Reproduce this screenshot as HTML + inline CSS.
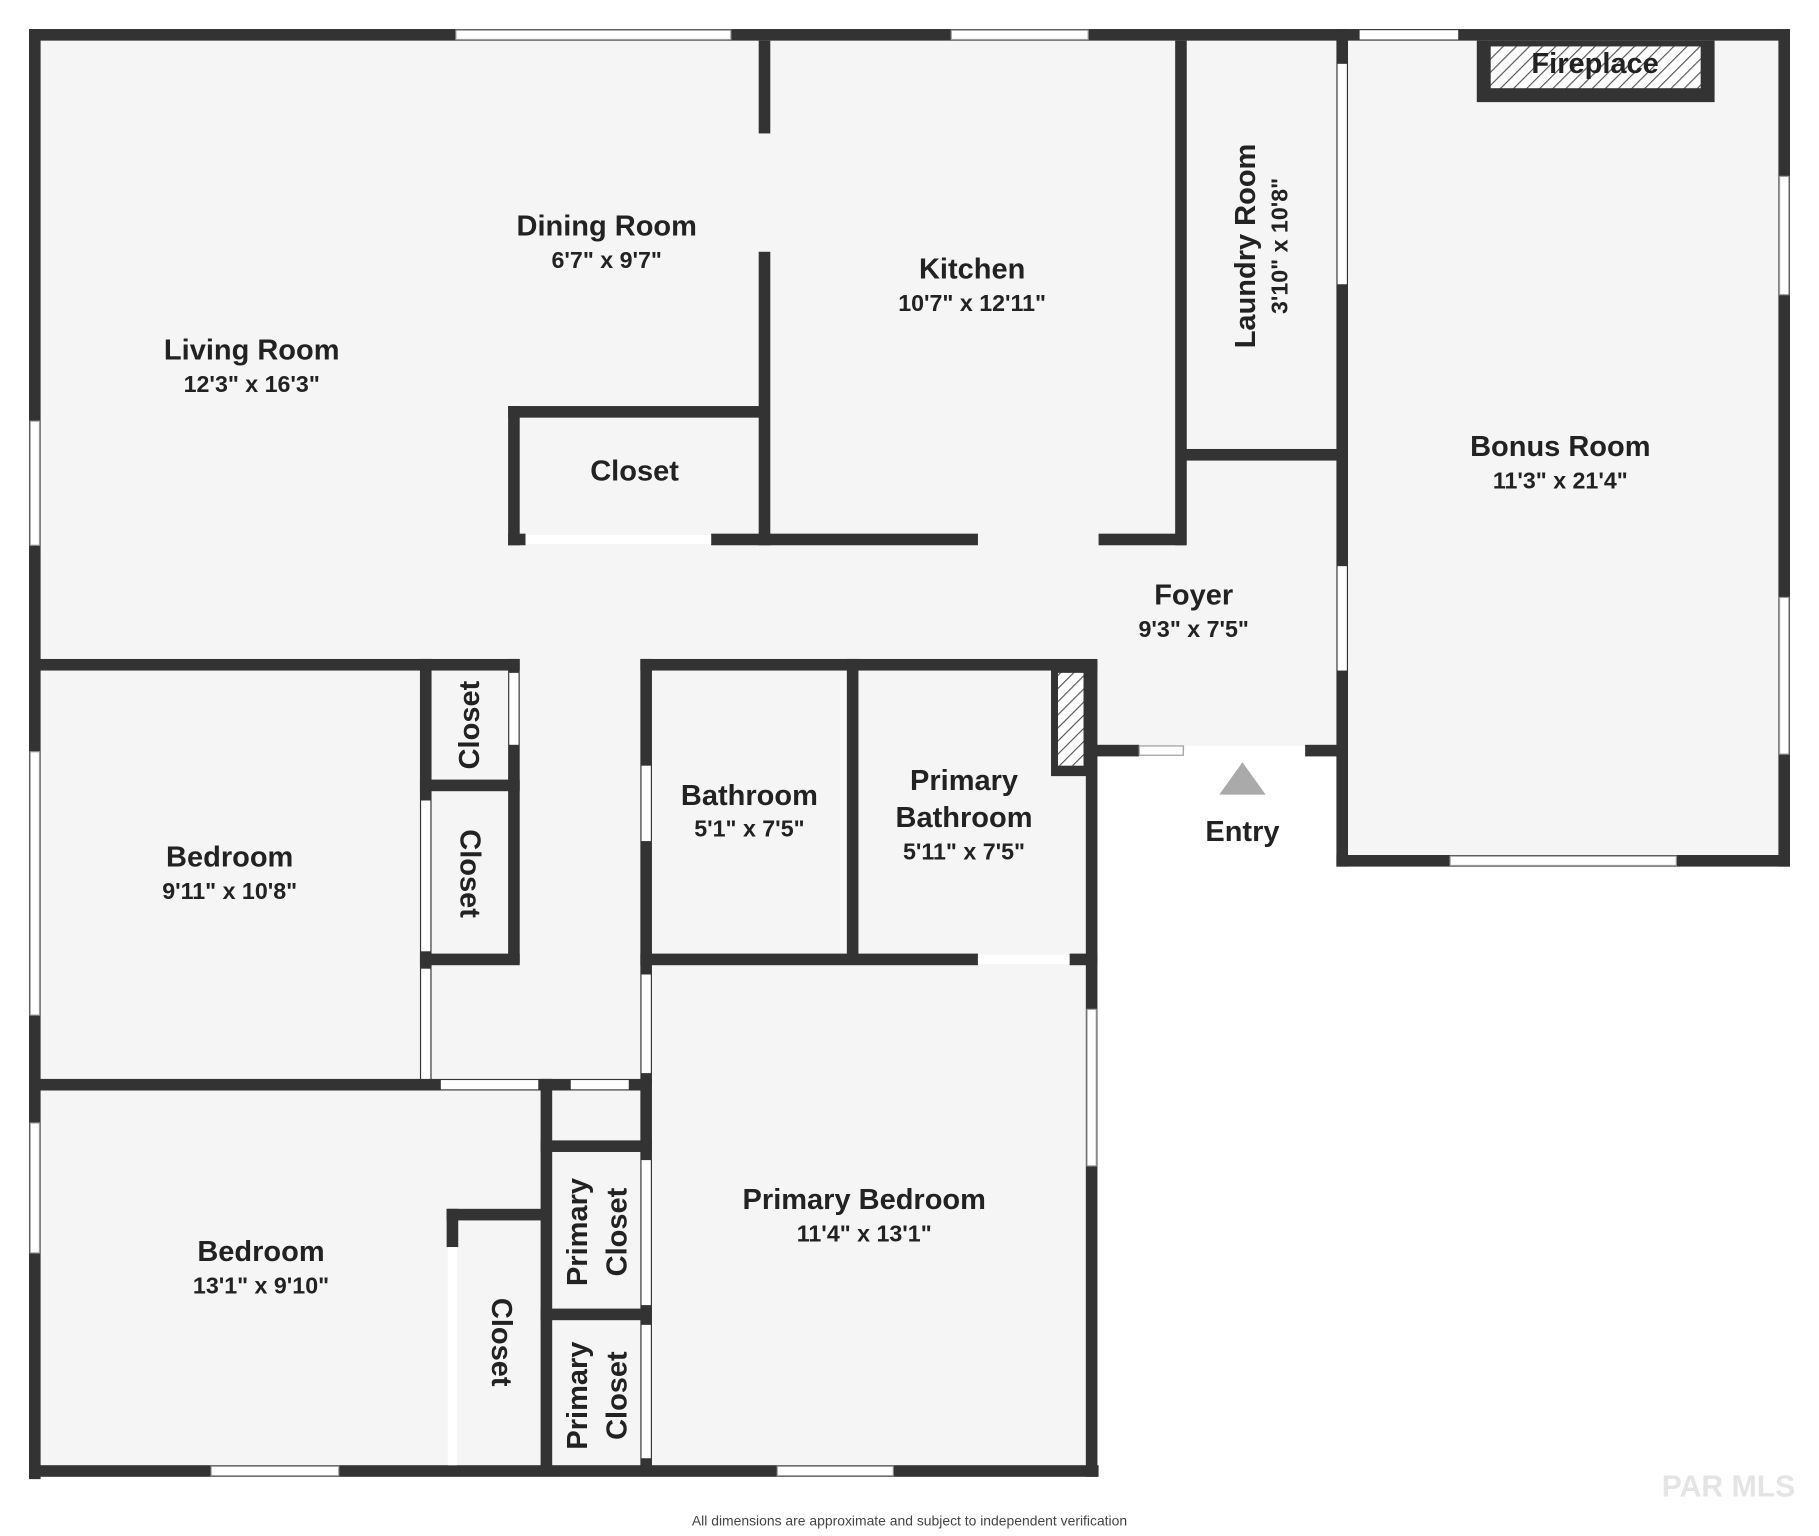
<!DOCTYPE html>
<html><head><meta charset="utf-8"><style>
html,body{margin:0;padding:0;background:#fff;}
svg{display:block;}
text{font-family:"Liberation Sans",sans-serif;font-weight:bold;fill:#222;text-anchor:middle;}
.t{font-size:25px;}
.d{font-size:20px;}
</style></head><body>
<svg width="1819" height="1536" viewBox="0 0 1568 1324" xmlns="http://www.w3.org/2000/svg">
<defs>
<pattern id="h" width="8" height="8" patternUnits="userSpaceOnUse" patternTransform="rotate(45)">
<rect width="8" height="8" fill="#fff"/><line x1="0" y1="0" x2="0" y2="8" stroke="#555" stroke-width="2"/></pattern>
</defs>
<!-- floors -->
<path d="M30 30 H1152 V647 H941 V1268 H30 Z" fill="#f5f5f5"/>
<rect x="1152" y="30" width="390" height="715" fill="#f5f5f5"/>
<g fill="#333">
<!-- outer -->
<rect x="25" y="25" width="1518" height="10"/>
<rect x="25" y="25" width="10" height="1250"/>
<rect x="25" y="1263" width="922" height="10"/>
<rect x="936" y="570" width="10" height="703"/>
<rect x="1533" y="25" width="10" height="722"/>
<rect x="1152" y="737" width="391" height="10"/>
<rect x="1152" y="25" width="10" height="722"/>
<!-- dining/kitchen -->
<rect x="654" y="35" width="10" height="80"/>
<rect x="654" y="217" width="10" height="253"/>
<rect x="438" y="350" width="220" height="10"/>
<rect x="438" y="350" width="10" height="120"/>
<rect x="438" y="460" width="15" height="10"/>
<rect x="613" y="460" width="230" height="10"/>
<rect x="947" y="460" width="75" height="10"/>
<rect x="1013" y="35" width="10" height="435"/>
<rect x="1018" y="387" width="140" height="10"/>
<!-- fireplace -->
<rect x="1273" y="35" width="205" height="53"/>
<!-- foyer bottom -->
<rect x="941" y="642" width="41" height="10"/>
<rect x="1125" y="642" width="32" height="10"/>
<!-- bedroom1 -->
<rect x="30" y="568" width="418" height="10"/>
<rect x="362" y="568" width="10" height="367"/>
<rect x="438" y="568" width="10" height="262"/>
<rect x="362" y="672" width="86" height="10"/>
<rect x="362" y="822" width="86" height="10"/>
<rect x="30" y="930" width="530" height="10"/>
<!-- bath block -->
<rect x="552" y="568" width="394" height="10"/>
<rect x="552" y="568" width="10" height="367"/>
<rect x="730" y="568" width="10" height="262"/>
<rect x="552" y="822" width="291" height="10"/>
<rect x="922" y="822" width="24" height="10"/>
<rect x="906" y="573" width="34" height="96"/>
<!-- lower closets -->
<rect x="466" y="930" width="10" height="338"/>
<rect x="552" y="930" width="10" height="338"/>
<rect x="466" y="983" width="96" height="10"/>
<rect x="466" y="1128" width="96" height="10"/>
<rect x="385" y="1042" width="85" height="10"/>
<rect x="385" y="1042" width="10" height="33"/>
</g>
<rect x="1285" y="40" width="181" height="36" fill="url(#h)"/>
<rect x="912" y="580" width="22" height="80" fill="url(#h)"/>
<!-- windows / openings -->
<g fill="#fff" stroke="#999" stroke-width="1">
<rect x="393" y="26" width="237" height="8"/>
<rect x="820" y="26" width="118" height="8"/>
<rect x="1172" y="26" width="85" height="8" stroke="none"/>
<rect x="26" y="363" width="8" height="107"/>
<rect x="26" y="648" width="8" height="227"/>
<rect x="26" y="968" width="8" height="112"/>
<rect x="182" y="1264" width="110" height="8"/>
<rect x="670" y="1264" width="100" height="8"/>
<rect x="937" y="870" width="8" height="135"/>
<rect x="1534" y="152" width="8" height="102"/>
<rect x="1534" y="515" width="8" height="135"/>
<rect x="1250" y="738" width="195" height="8"/>
<rect x="1153" y="55" width="8" height="190" stroke="none"/>
<rect x="1153" y="488" width="8" height="90" stroke="none"/>
<rect x="982" y="643" width="38" height="8"/>
<rect x="1022" y="643" width="103" height="8" stroke="none"/>
<rect x="453" y="461" width="160" height="8" stroke="none"/>
<rect x="439" y="580" width="8" height="62" stroke="none"/>
<rect x="363" y="690" width="8" height="130" stroke="none"/>
<rect x="363" y="835" width="8" height="95" stroke="none"/>
<rect x="553" y="660" width="8" height="65" stroke="none"/>
<rect x="553" y="840" width="8" height="85" stroke="none"/>
<rect x="843" y="823" width="79" height="8" stroke="none"/>
<rect x="380" y="931" width="84" height="8" stroke="none"/>
<rect x="492" y="931" width="50" height="8" stroke="none"/>
<rect x="553" y="1000" width="8" height="125" stroke="none"/>
<rect x="553" y="1142" width="8" height="115" stroke="none"/>
<rect x="386" y="1075" width="8" height="188" stroke="none"/>
</g>
<polygon points="1071,657 1051,685 1091,685" fill="#aaa"/>
<!-- labels -->
<text class="t" x="1375" y="63">Fireplace</text>
<text class="t" x="523" y="203">Dining Room</text><text class="d" x="523" y="231">6'7" x 9'7"</text>
<text class="t" x="838" y="240">Kitchen</text><text class="d" x="838" y="268">10'7" x 12'11"</text>
<text class="t" x="217" y="310">Living Room</text><text class="d" x="217" y="338">12'3" x 16'3"</text>
<text class="t" x="547" y="414">Closet</text>
<g transform="translate(1082,212) rotate(-90)"><text class="t" x="0" y="0">Laundry Room</text><text class="d" x="0" y="28">3'10" x 10'8"</text></g>
<text class="t" x="1345" y="393">Bonus Room</text><text class="d" x="1345" y="421">11'3" x 21'4"</text>
<text class="t" x="1029" y="521">Foyer</text><text class="d" x="1029" y="549">9'3" x 7'5"</text>
<text class="t" x="1071" y="725">Entry</text>
<text class="t" x="646" y="694">Bathroom</text><text class="d" x="646" y="721">5'1" x 7'5"</text>
<text class="t" x="831" y="681">Primary</text><text class="t" x="831" y="713">Bathroom</text><text class="d" x="831" y="741">5'11" x 7'5"</text>
<text class="t" x="198" y="747">Bedroom</text><text class="d" x="198" y="775">9'11" x 10'8"</text>
<g transform="translate(413,625) rotate(-90)"><text class="t" x="0" y="0">Closet</text></g>
<g transform="translate(397,753) rotate(90)"><text class="t" x="0" y="0">Closet</text></g>
<text class="t" x="745" y="1042">Primary Bedroom</text><text class="d" x="745" y="1070">11'4" x 13'1"</text>
<text class="t" x="225" y="1087">Bedroom</text><text class="d" x="225" y="1115">13'1" x 9'10"</text>
<g transform="translate(424,1157) rotate(90)"><text class="t" x="0" y="0">Closet</text></g>
<g transform="translate(506,1062) rotate(-90)"><text class="t" x="0" y="0">Primary</text><text class="t" x="0" y="34">Closet</text></g>
<g transform="translate(506,1203) rotate(-90)"><text class="t" x="0" y="0">Primary</text><text class="t" x="0" y="34">Closet</text></g>
<text x="784" y="1315" style="font-size:12px;font-weight:normal;fill:#444">All dimensions are approximate and subject to independent verification</text>
<text x="1490" y="1290" style="font-size:26px;fill:#e4e4e4">PAR MLS</text>
</svg>
</body></html>
